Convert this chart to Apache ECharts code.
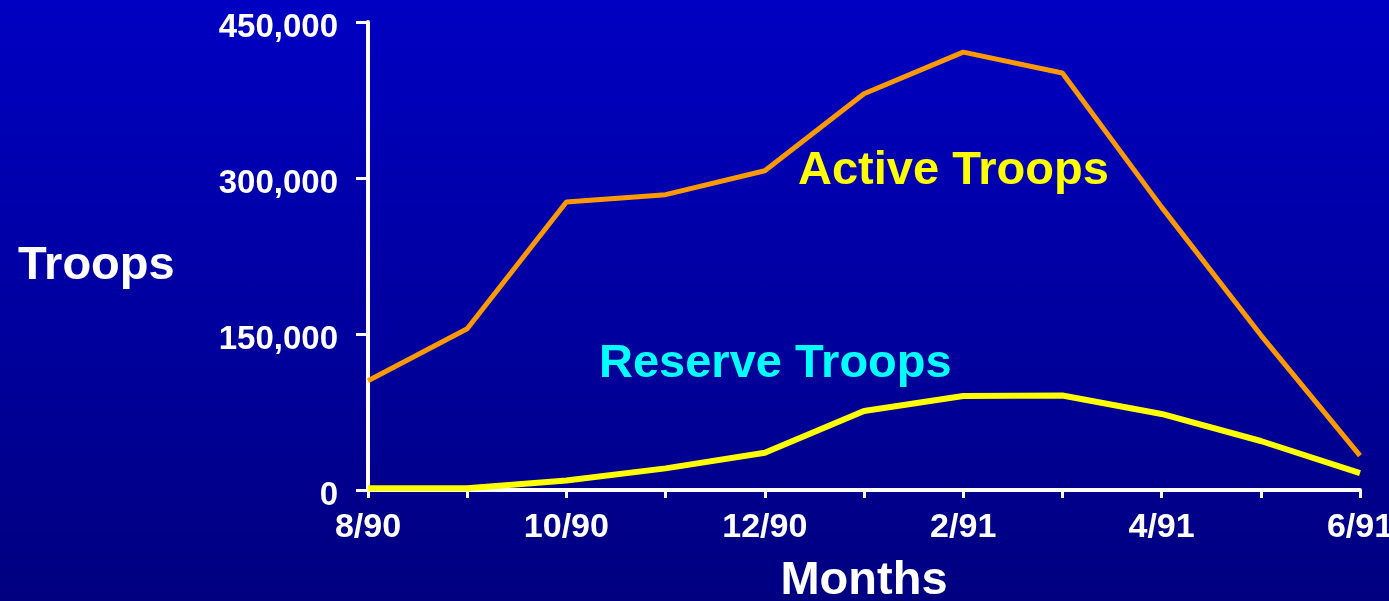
<!DOCTYPE html>
<html>
<head>
<meta charset="utf-8">
<title>Troops</title>
<script src="https://cdn.jsdelivr.net/npm/echarts@6/dist/echarts.min.js"></script>
<style>
  html, body {
    margin: 0;
    padding: 0;
    overflow: hidden;
  }
  #chart {
    width: 1389px;
    height: 601px;
    background: linear-gradient(to bottom, #0000c2 0%, #000080 100%);
  }
</style>
</head>
<body>
<div id="chart"></div>
<script>
// months on the x axis
const months = ["8/90", "9/90", "10/90", "11/90", "12/90", "1/91", "2/91", "3/91", "4/91", "5/91", "6/91"];
// troop counts
const activeTroops = [105000, 155000, 277000, 284000, 307000, 381000, 421000, 401000, 272000, 149000, 33000];
const reserveTroops = [1600, 1600, 9200, 20800, 35900, 76000, 90400, 90900, 73100, 47100, 16300];
// y axis ticks
const yTicks = [0, 150000, 300000, 450000];

const fontFamily = '"Liberation Sans", Arial, sans-serif';
const myChart = echarts.init(document.getElementById("chart"));

const option = {
  backgroundColor: "transparent",
  animation: false,
  grid: {
    left: 368,
    right: 29,
    top: 22,
    bottom: 111,
    containLabel: false,
    outerBoundsMode: "none"
  },
  xAxis: {
    type: "category",
    data: months,
    boundaryGap: false,
    name: "Months",
    nameLocation: "middle",
    nameGap: 68,
    nameTextStyle: {
      color: "#ffffff",
      fontSize: 47,
      fontWeight: "bold",
      fontFamily: fontFamily
    },
    axisLine: {
      lineStyle: { color: "#ffffff", width: 4 }
    },
    axisTick: {
      alignWithLabel: true,
      interval: 0,
      length: 8,
      lineStyle: { color: "#ffffff", width: 3 }
    },
    axisLabel: {
      interval: 1,
      margin: 21,
      color: "#ffffff",
      fontSize: 34,
      fontWeight: "bold",
      fontFamily: fontFamily
    },
    splitLine: { show: false }
  },
  yAxis: {
    type: "value",
    min: yTicks[0],
    max: yTicks[yTicks.length - 1],
    interval: yTicks[1] - yTicks[0],
    axisLine: {
      show: true,
      lineStyle: { color: "#ffffff", width: 4 }
    },
    axisTick: {
      show: true,
      length: 12,
      lineStyle: { color: "#ffffff", width: 3 }
    },
    axisLabel: {
      margin: 30,
      formatter: value => "{v|" + value.toLocaleString("en-US") + "}",
      rich: {
        v: {
          color: "#ffffff",
          fontSize: 33,
          fontWeight: "bold",
          fontFamily: fontFamily,
          padding: [12, 0, 0, 0]
        }
      }
    },
    splitLine: { show: false }
  },
  graphic: [
    {
      type: "text",
      left: 18,
      top: 243,
      style: {
        text: "Troops",
        fill: "#ffffff",
        font: "bold 47px " + fontFamily
      }
    },
    {
      type: "text",
      x: 798,
      y: 171,
      style: {
        text: "Active Troops",
        fill: "#ffff00",
        font: "bold 47px " + fontFamily,
        verticalAlign: "middle",
        shadowColor: "#000000",
        shadowOffsetX: 2,
        shadowOffsetY: 2,
        shadowBlur: 0
      }
    },
    {
      type: "text",
      x: 599,
      y: 364,
      style: {
        text: "Reserve Troops",
        fill: "#00ffff",
        font: "bold 47px " + fontFamily,
        verticalAlign: "middle",
        shadowColor: "#000000",
        shadowOffsetX: 2,
        shadowOffsetY: 2,
        shadowBlur: 0
      }
    }
  ],
  series: [
    {
      name: "Active Troops",
      type: "line",
      data: activeTroops,
      symbol: "none",
      lineStyle: { color: "#ff9900", width: 5 },
      z: 3
    },
    {
      name: "Reserve Troops",
      type: "line",
      data: reserveTroops,
      symbol: "none",
      lineStyle: { color: "#ffff00", width: 6 },
      z: 4
    }
  ]
};
myChart.setOption(option);
</script>
</body>
</html>
